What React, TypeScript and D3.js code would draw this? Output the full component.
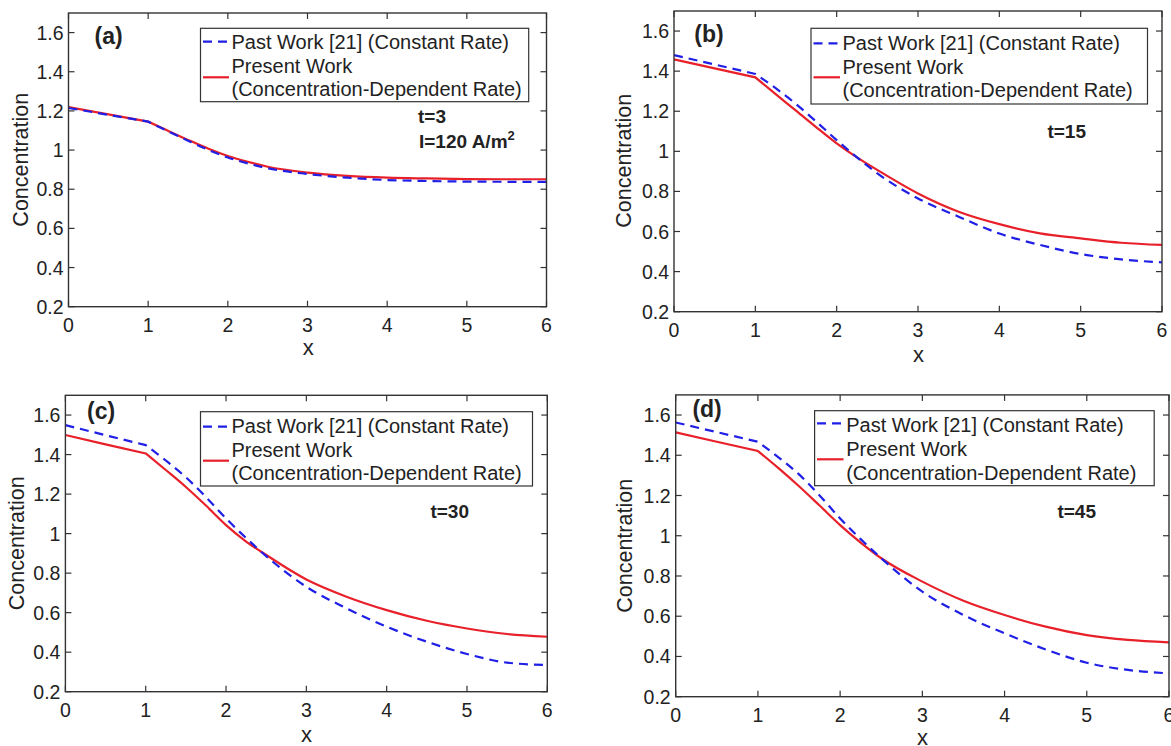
import React from 'react';
import * as d3 from 'd3';

// ---- data ----
const xValues = [0, 0.5, 1, 1.25, 1.5, 1.75, 2, 2.25, 2.5, 3, 3.5, 4, 4.5, 5, 5.5, 6];

const pastA = [1.215, 1.18, 1.145, 1.096, 1.048, 1.002, 0.962, 0.932, 0.907, 0.878, 0.859, 0.847, 0.842, 0.839, 0.838, 0.837];
const presentA = [1.219, 1.182, 1.145, 1.098, 1.052, 1.008, 0.97, 0.94, 0.915, 0.885, 0.868, 0.859, 0.855, 0.852, 0.851, 0.851];

const pastB = [1.48, 1.433, 1.386, 1.315, 1.236, 1.148, 1.056, 0.97, 0.89, 0.765, 0.674, 0.59, 0.533, 0.488, 0.461, 0.446];
const presentB = [1.459, 1.414, 1.369, 1.285, 1.203, 1.12, 1.04, 0.97, 0.907, 0.79, 0.699, 0.637, 0.591, 0.566, 0.544, 0.533];

const pastC = [1.549, 1.498, 1.448, 1.37, 1.285, 1.185, 1.077, 0.978, 0.886, 0.731, 0.622, 0.529, 0.453, 0.391, 0.347, 0.335];
const presentC = [1.499, 1.452, 1.406, 1.322, 1.236, 1.142, 1.043, 0.96, 0.892, 0.768, 0.681, 0.613, 0.559, 0.52, 0.492, 0.478];

const pastD = [1.563, 1.515, 1.467, 1.39, 1.305, 1.2, 1.086, 0.983, 0.888, 0.722, 0.606, 0.515, 0.435, 0.369, 0.333, 0.316];
const presentD = [1.514, 1.467, 1.421, 1.336, 1.246, 1.15, 1.053, 0.966, 0.888, 0.772, 0.677, 0.606, 0.548, 0.506, 0.482, 0.47];

const xTicks = [0, 1, 2, 3, 4, 5, 6];
const yTicks = [0.2, 0.4, 0.6, 0.8, 1, 1.2, 1.4, 1.6];
const yTickLabels = ['0.2', '0.4', '0.6', '0.8', '1', '1.2', '1.4', '1.6'];
const panelLabels = ['(a)', '(b)', '(c)', '(d)'];
const timeLabels = ['t=3', 't=15', 't=30', 't=45'];
const legendLabels = ['Past Work [21] (Constant Rate)', 'Present Work', '(Concentration-Dependent Rate)'];
const xTitle = 'x';
const yTitle = 'Concentration';

// ---- layout (styles & positions) ----
const FONT = '"Liberation Sans", Arial, Helvetica, sans-serif';
const BLUE = '#1f1fe6';
const RED = '#e8202a';
const AXIS = '#333333';

const layouts = [
  {
    past: pastA, present: presentA,
    left: 68.5, right: 546.5, top: 13, bottom: 306.7,
    leg: { x0: 200.5, x1: 528.7, y0: 28.3, y1: 101.7, s0: 203, s1: 229, tx: 231.5, yb: 41.7, yr: 77.3, b1: 48.5, b2: 72.5, b3: 95.5 },
    lab: { x: 94.5, y: 44 }, time: { x: 418, y: 123.3 }, ylab: { x: 20.8, y: 159.7 }, xlab: { x: 308.2, y: 355 },
  },
  {
    past: pastB, present: presentB,
    left: 674, right: 1162, top: 11, bottom: 311.7,
    leg: { x0: 811, x1: 1147.5, y0: 28.3, y1: 104, s0: 813.5, s1: 840, tx: 842.5, yb: 43.3, yr: 77.3, b1: 50, b2: 73.5, b3: 97 },
    lab: { x: 694.3, y: 41.7 }, time: { x: 1047.4, y: 138.3 }, ylab: { x: 623.5, y: 160.8 }, xlab: { x: 918.5, y: 361.7 },
  },
  {
    past: pastC, present: presentC,
    left: 65.4, right: 547.3, top: 395.3, bottom: 691.7,
    leg: { x0: 200.5, x1: 532.5, y0: 411.7, y1: 486, s0: 203, s1: 229, tx: 231.5, yb: 426.7, yr: 460.7, b1: 433, b2: 456.5, b3: 479.5 },
    lab: { x: 87, y: 419.3 }, time: { x: 430.4, y: 517.7 }, ylab: { x: 17, y: 543.3 }, xlab: { x: 306.4, y: 741.7 },
  },
  {
    past: pastD, present: presentD,
    left: 675.7, right: 1169, top: 394.9, bottom: 696.7,
    leg: { x0: 814.6, x1: 1154.2, y0: 410.7, y1: 485.7, s0: 817, s1: 843.5, tx: 846.2, yb: 423.3, yr: 459.3, b1: 431.5, b2: 456, b3: 480 },
    lab: { x: 692.4, y: 416.7 }, time: { x: 1057.4, y: 517.7 }, ylab: { x: 625.4, y: 545.8 }, xlab: { x: 922.6, y: 745 },
  },
];

function buildPath(xs: number[], ys: number[], sx: d3.ScaleLinear<number, number>, sy: d3.ScaleLinear<number, number>) {
  const pts: [number, number][] = xs.map((x, i) => [sx(x), sy(ys[i])]);
  const k = xs.indexOf(1);
  const straight = d3.line().curve(d3.curveLinear)(pts.slice(0, k + 1)) || '';
  const smooth = d3.line().curve(d3.curveMonotoneX)(pts.slice(k)) || '';
  return straight + smooth.replace(/^M/, 'L');
}

function Panel({ idx }: { idx: number }) {
  const L = layouts[idx];
  const sx = d3.scaleLinear().domain([0, 6]).range([L.left, L.right]);
  const sy = d3.scaleLinear().domain([0.2, 1.7]).range([L.bottom, L.top]);
  const tl = 6;
  const lg = L.leg;
  return (
    <g>
      {/* curves */}
      <path d={buildPath(xValues, L.present, sx, sy)} fill="none" stroke={RED} strokeWidth={2.2} />
      <path d={buildPath(xValues, L.past, sx, sy)} fill="none" stroke={BLUE} strokeWidth={2.2} strokeDasharray="9,6" />
      {/* box */}
      <rect x={L.left} y={L.top} width={L.right - L.left} height={L.bottom - L.top} fill="none" stroke={AXIS} strokeWidth={1.4} />
      {/* x ticks */}
      {xTicks.map((t) => (
        <g key={'x' + t}>
          <line x1={sx(t)} x2={sx(t)} y1={L.bottom} y2={L.bottom - tl} stroke={AXIS} strokeWidth={1.2} />
          <line x1={sx(t)} x2={sx(t)} y1={L.top} y2={L.top + tl} stroke={AXIS} strokeWidth={1.2} />
          <text x={sx(t)} y={L.bottom + 25} textAnchor="middle" fontSize={19.5} fontFamily={FONT} fill="#222">{String(t)}</text>
        </g>
      ))}
      {/* y ticks */}
      {yTicks.map((t, i) => (
        <g key={'y' + t}>
          <line x1={L.left} x2={L.left + tl} y1={sy(t)} y2={sy(t)} stroke={AXIS} strokeWidth={1.2} />
          <line x1={L.right} x2={L.right - tl} y1={sy(t)} y2={sy(t)} stroke={AXIS} strokeWidth={1.2} />
          <text x={L.left - 5} y={sy(t) + 7} textAnchor="end" fontSize={19.5} fontFamily={FONT} fill="#222">{yTickLabels[i]}</text>
        </g>
      ))}
      {/* axis titles */}
      <text x={L.xlab.x} y={L.xlab.y} textAnchor="middle" fontSize={22} fontFamily={FONT} fill="#222">{xTitle}</text>
      <text transform={`translate(${L.ylab.x + 7},${L.ylab.y}) rotate(-90)`} textAnchor="middle" fontSize={21.5} fontFamily={FONT} fill="#222">{yTitle}</text>
      {/* panel label */}
      <text x={L.lab.x} y={L.lab.y} fontSize={23} fontWeight="bold" fontFamily={FONT} fill="#222">{panelLabels[idx]}</text>
      {/* time label */}
      <text x={L.time.x} y={L.time.y} fontSize={19} fontWeight="bold" fontFamily={FONT} fill="#222">{timeLabels[idx]}</text>
      {idx === 0 && (
        <text x={L.time.x + 1} y={L.time.y + 25} fontSize={19} fontWeight="bold" fontFamily={FONT} fill="#222">
          I=120 A/m<tspan dy={-8} fontSize={13}>2</tspan>
        </text>
      )}
      {/* legend */}
      <rect x={lg.x0} y={lg.y0} width={lg.x1 - lg.x0} height={lg.y1 - lg.y0} fill="#fff" stroke={AXIS} strokeWidth={1.2} />
      <line x1={lg.s0} x2={lg.s1} y1={lg.yb} y2={lg.yb} stroke={BLUE} strokeWidth={2.2} strokeDasharray="9,6" />
      <line x1={lg.s0} x2={lg.s1} y1={lg.yr} y2={lg.yr} stroke={RED} strokeWidth={2.2} />
      <text x={lg.tx} y={lg.b1} fontSize={20} fontFamily={FONT} fill="#222">{legendLabels[0]}</text>
      <text x={lg.tx} y={lg.b2} fontSize={20} fontFamily={FONT} fill="#222">{legendLabels[1]}</text>
      <text x={lg.tx} y={lg.b3} fontSize={20} fontFamily={FONT} fill="#222">{legendLabels[2]}</text>
    </g>
  );
}

export default function App() {
  return (
    <svg width={1171} height={746} style={{ position: 'absolute', left: 0, top: 0, background: '#fff' }}>
      <rect x={0} y={0} width={1171} height={746} fill="#fff" />
      {layouts.map((_, i) => (
        <Panel key={i} idx={i} />
      ))}
    </svg>
  );
}
